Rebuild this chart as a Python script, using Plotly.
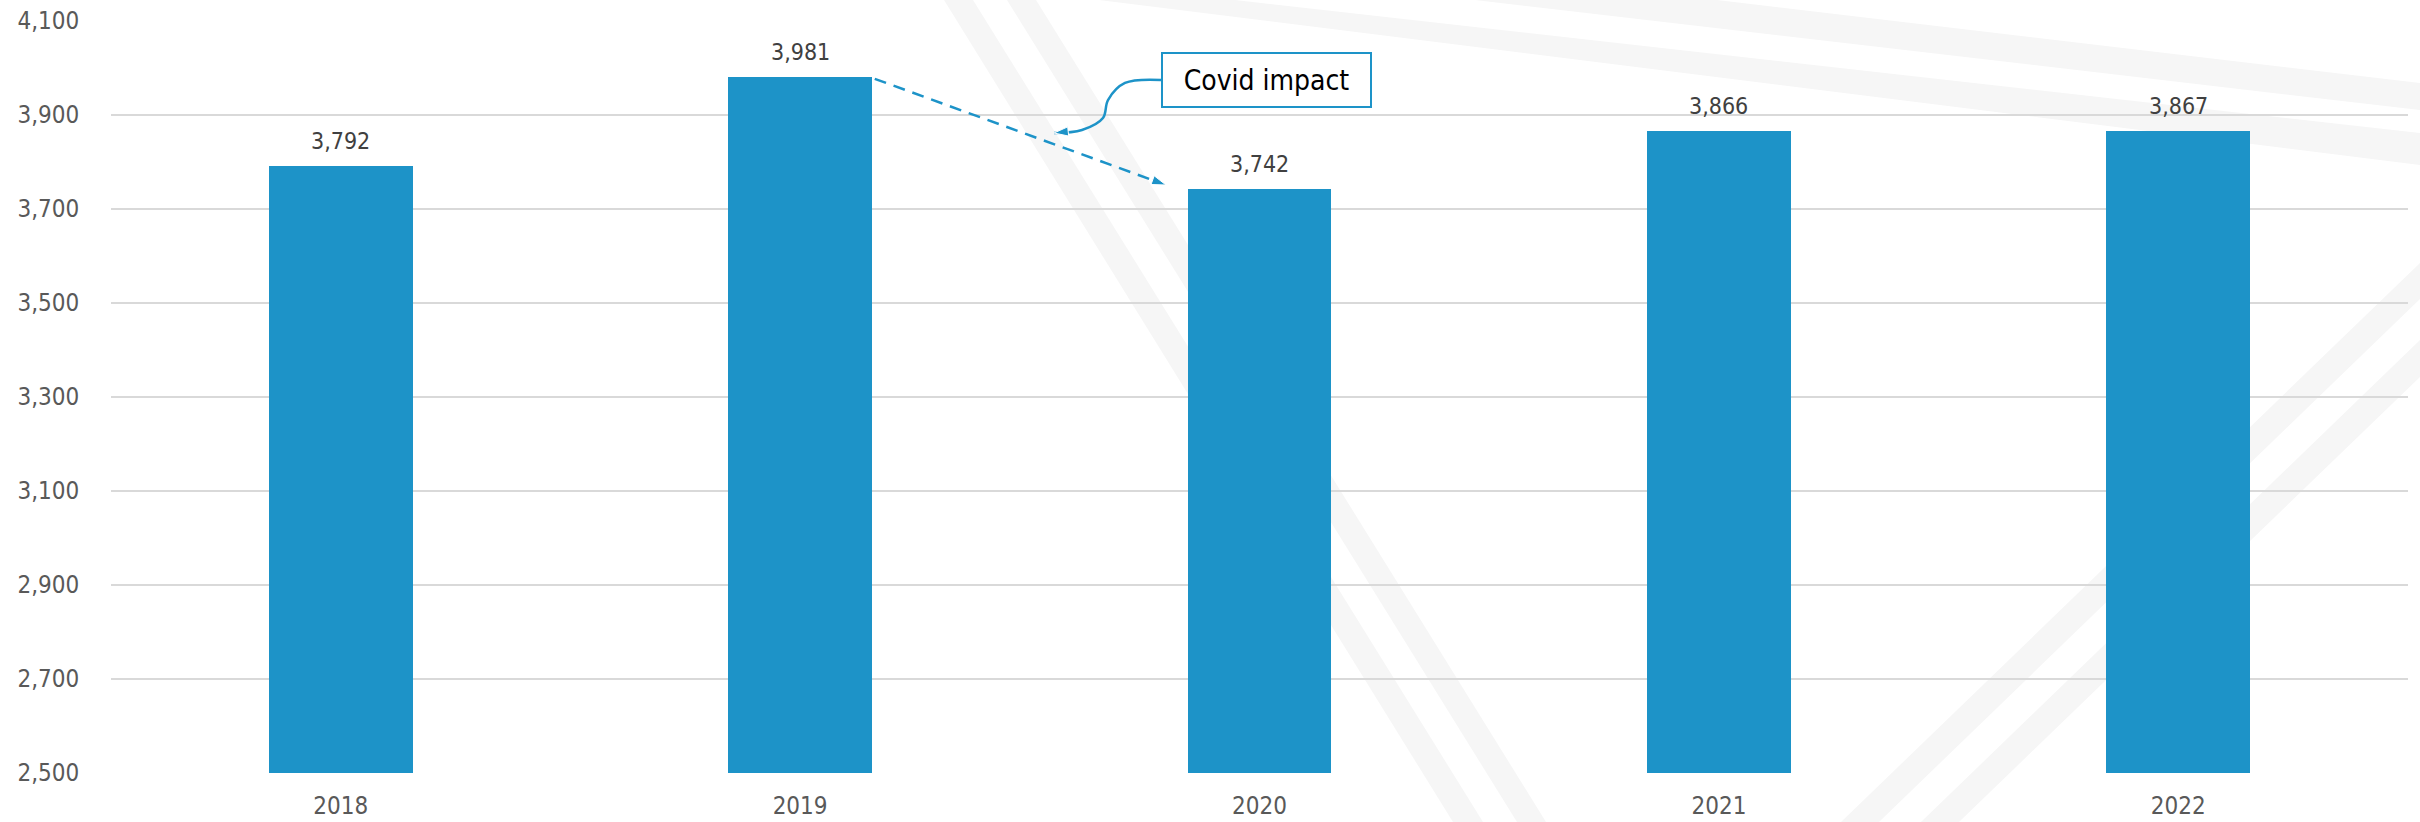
import plotly.graph_objects as go

# Annual values
years = ["2018", "2019", "2020", "2021", "2022"]
values = [3792, 3981, 3742, 3866, 3867]
y_ticks = [2500, 2700, 2900, 3100, 3300, 3500, 3700, 3900, 4100]
callout_text = "Covid impact"

BLUE = "#1D93C8"
GRID = "#D9D9D9"
STRIPE = "#F6F6F6"
FONT = "DejaVu Sans Condensed, DejaVu Sans, Tahoma, sans-serif"

W, H = 2420, 822
M_L, M_R, M_T, M_B = 111, 12, 21, 49
PLOT_W = W - M_L - M_R
PLOT_H = H - M_T - M_B
BAR_W = 0.313

x_pos = list(range(len(years)))


def to_paper(px, py):
    """Page pixel position -> plot-area paper fraction."""
    return (px - M_L) / PLOT_W, (H - M_B - py) / PLOT_H


def band(points):
    pts = [to_paper(px, py) for px, py in points]
    path = "M " + " L ".join(f"{x:.5f},{y:.5f}" for x, y in pts) + " Z"
    return dict(type="path", path=path, xref="paper", yref="paper",
                fillcolor=STRIPE, line=dict(width=0), layer="below")


# Decorative light diagonal bands in the background
bands = [
    [(944, 0), (973, 0), (1483, 822), (1453, 822)],
    [(1007, 0), (1036, 0), (1546, 822), (1517, 822)],
    [(1841, 822), (2420, 263), (2420, 299), (1879, 822)],
    [(1921, 822), (2420, 340), (2420, 377), (1959, 822)],
    [(1475, 0), (1717, 0), (2420, 83), (2420, 110)],
    [(1099, 0), (1235, 0), (2420, 133), (2420, 165)],
]

fig = go.Figure()

fig.add_trace(go.Bar(
    x=x_pos, y=values, width=BAR_W,
    marker=dict(color=BLUE, line=dict(width=0)),
    hoverinfo="skip", showlegend=False,
))

# Dashed arrow from the 2019 bar top down to the 2020 bar
i19, i20 = years.index("2019"), years.index("2020")
dash_x = [i19 + BAR_W / 2 + 0.006, i20 - BAR_W / 2 - 0.047]
dash_y = [values[i19] - 4, values[i20] + 9]
fig.add_trace(go.Scatter(
    x=dash_x, y=dash_y, mode="lines+markers",
    line=dict(color=BLUE, width=2.5, dash="12px,8px"),
    marker=dict(symbol=["circle", "arrow"], size=[0, 15], color=BLUE,
                angleref="previous", opacity=[0, 1]),
    hoverinfo="skip", showlegend=False, cliponaxis=False,
))

# Curved connector from the callout box to the dashed arrow
curve_x = [1.7856, 1.7072, 1.6702, 1.6593, 1.6136, 1.5527]
curve_y = [3974.5, 3968.1, 3931.9, 3893.6, 3868.1, 3861.7]
fig.add_trace(go.Scatter(
    x=curve_x, y=curve_y, mode="lines+markers",
    line=dict(color=BLUE, width=2.5, shape="spline", smoothing=1.0),
    marker=dict(symbol=["circle"] * 5 + ["arrow"], size=[0] * 5 + [15],
                color=BLUE, angleref="previous", opacity=[0] * 5 + [1]),
    hoverinfo="skip", showlegend=False, cliponaxis=False,
))

annotations = []
for xi, v in zip(x_pos, values):
    annotations.append(dict(
        x=xi, y=v, xref="x", yref="y", text=f"{v:,}", showarrow=False,
        yanchor="bottom", yshift=10,
        font=dict(family=FONT, size=23, color="#404040"),
    ))

annotations.append(dict(
    x=2.015, y=3975, xref="x", yref="y", text=callout_text, showarrow=False,
    xanchor="center", yanchor="middle", width=203, height=48,
    bordercolor=BLUE, borderwidth=2, borderpad=2, bgcolor="white",
    font=dict(family=FONT, size=28, color="#000000"),
))

fig.update_layout(
    width=W, height=H,
    margin=dict(l=M_L, r=M_R, t=M_T, b=M_B, pad=0, autoexpand=False),
    paper_bgcolor="white", plot_bgcolor="rgba(0,0,0,0)",
    bargap=0, showlegend=False,
    shapes=[band(b) for b in bands],
    annotations=annotations,
    xaxis=dict(
        range=[-0.5, len(years) - 0.5], tickvals=x_pos, ticktext=years,
        showgrid=False, zeroline=False, showline=False, automargin=False,
        ticks="outside", ticklen=11, tickcolor="rgba(0,0,0,0)",
        tickfont=dict(family=FONT, size=24, color="#595959"),
        fixedrange=True,
    ),
    yaxis=dict(
        range=[y_ticks[0], y_ticks[-1]], tickvals=y_ticks,
        tickformat=",", showgrid=True, gridcolor=GRID, gridwidth=2,
        zeroline=False, showline=False, automargin=False,
        ticks="outside", ticklen=26, tickcolor="rgba(0,0,0,0)",
        tickfont=dict(family=FONT, size=24, color="#595959"),
        fixedrange=True,
    ),
)

fig.write_html("out.html", include_plotlyjs=True, config=dict(displayModeBar=False))
